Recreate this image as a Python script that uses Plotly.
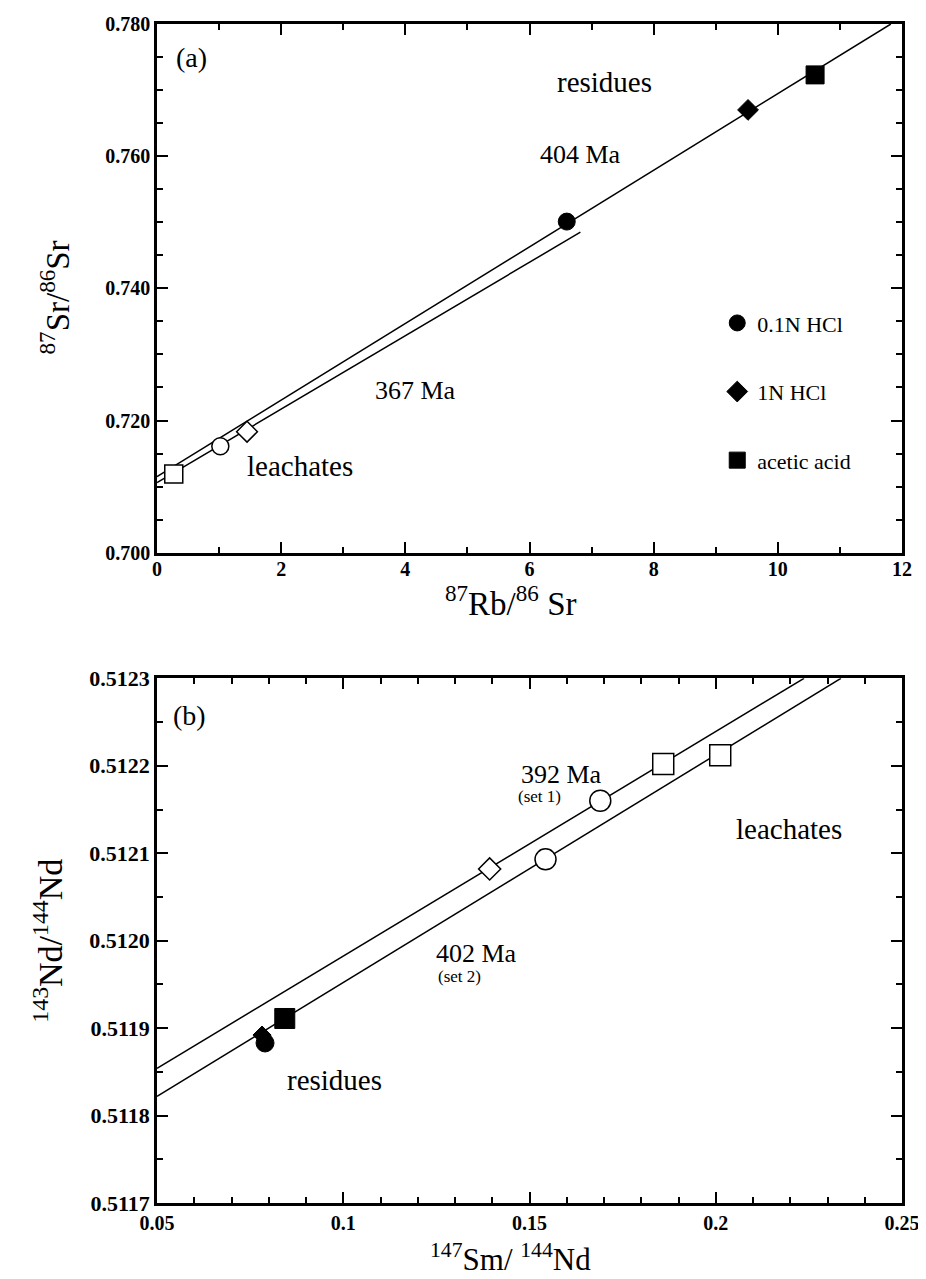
import plotly.graph_objects as go

# ---------------- Panel (a): Rb-Sr ----------------
rb_res_x = [6.60, 9.52, 10.60]          # residues: 0.1N HCl, 1N HCl, acetic acid
rb_res_y = [0.7501, 0.7670, 0.7723]
rb_lea_x = [1.02, 1.45, 0.27]           # leachates: 0.1N HCl, 1N HCl, acetic acid
rb_lea_y = [0.7161, 0.7183, 0.7119]
iso404_x = [0.0, 11.82]
iso404_y = [0.7115, 0.7800]
iso367_x = [0.0, 6.82]
iso367_y = [0.7106, 0.7485]
rb_xticks = [0, 2, 4, 6, 8, 10, 12]
sr_yticks = [0.700, 0.720, 0.740, 0.760, 0.780]
sr_ylabels = ["0.700", "0.720", "0.740", "0.760", "0.780"]

# ---------------- Panel (b): Sm-Nd ----------------
sm_res_x = [0.0790, 0.0782, 0.0843]
sm_res_y = [0.511883, 0.511892, 0.511911]
sm_lea_x = [0.1690, 0.1543, 0.1393, 0.1859, 0.2012]
sm_lea_y = [0.512160, 0.512093, 0.512082, 0.512202, 0.512212]
sm_lea_sym = ["circle", "circle", "diamond", "square", "square"]
iso392_x = [0.05, 0.2237]
iso392_y = [0.511854, 0.5123]
iso402_x = [0.05, 0.2336]
iso402_y = [0.511822, 0.5123]
sm_xticks = [0.05, 0.10, 0.15, 0.20, 0.25]
sm_xlabels = ["0.05", "0.1", "0.15", "0.2", "0.25"]
nd_yticks = [0.5117, 0.5118, 0.5119, 0.5120, 0.5121, 0.5122, 0.5123]
nd_ylabels = ["0.5117", "0.5118", "0.5119", "0.5120", "0.5121", "0.5122", "0.5123"]

legend_names = ["0.1N HCl", "1N HCl", "acetic acid"]
symbols = ["circle", "diamond", "square"]

SERIF = "Liberation Serif"
fig = go.Figure()

# isochron lines panel a
for xs, ys in [(iso404_x, iso404_y), (iso367_x, iso367_y)]:
    fig.add_trace(go.Scatter(x=xs, y=ys, mode="lines", line=dict(color="black", width=1.5),
                             showlegend=False, hoverinfo="skip", xaxis="x", yaxis="y"))
# leachates panel a (open)
for i in range(3):
    fig.add_trace(go.Scatter(x=[rb_lea_x[i]], y=[rb_lea_y[i]], mode="markers",
                             marker=dict(symbol=symbols[i], size=[17, 16, 18][i], color="white", opacity=1,
                                         line=dict(color="black", width=1.5)),
                             showlegend=False, xaxis="x", yaxis="y"))
# residues panel a (filled, legend)
for i in range(3):
    fig.add_trace(go.Scatter(x=[rb_res_x[i]], y=[rb_res_y[i]], mode="markers", name=legend_names[i],
                             legendgroup=legend_names[i],
                             marker=dict(symbol=symbols[i], size=[17, 16, 18][i], color="black", opacity=1,
                                         line=dict(color="black", width=1)),
                             showlegend=True, xaxis="x", yaxis="y"))

# isochron lines panel b
for xs, ys in [(iso392_x, iso392_y), (iso402_x, iso402_y)]:
    fig.add_trace(go.Scatter(x=xs, y=ys, mode="lines", line=dict(color="black", width=1.5),
                             showlegend=False, hoverinfo="skip", xaxis="x2", yaxis="y2"))
# residues panel b
fig.add_trace(go.Scatter(x=sm_res_x, y=sm_res_y, mode="markers",
                         marker=dict(symbol=["circle", "diamond", "square"], size=[18, 14, 20], color="black",
                                     opacity=1, line=dict(color="black", width=1)),
                         showlegend=False, xaxis="x2", yaxis="y2"))
# leachates panel b
fig.add_trace(go.Scatter(x=sm_lea_x, y=sm_lea_y, mode="markers",
                         marker=dict(symbol=sm_lea_sym, size=[21, 21, 17, 21, 21], color="white",
                                     opacity=1, line=dict(color="black", width=1.5)),
                         showlegend=False, xaxis="x2", yaxis="y2"))

def axis_common(size=20):
    return dict(showgrid=False, zeroline=False, showline=True, linecolor="black", linewidth=2.5,
                mirror="allticks", ticks="inside", tickcolor="black", tickwidth=2, ticklen=11,
                tickfont=dict(family=SERIF, size=size, color="black", weight="bold"))

# the page adds an 8px body margin, so the figure is drawn 8px smaller and shifted
fig.update_layout(
    width=918, height=1271,
    paper_bgcolor="white", plot_bgcolor="white",
    margin=dict(l=149, r=24, t=4, b=76),
    font=dict(family=SERIF, color="black"),
    xaxis=dict(domain=[0, 1], range=[0, 12], anchor="y", tickvals=rb_xticks,
               ticktext=[str(v) for v in rb_xticks], ticklabelstandoff=-3,
               minor=dict(ticks="inside", dtick=1, ticklen=6, tickwidth=1.5, tickcolor="black"),
               **axis_common()),
    yaxis=dict(domain=[0.5516, 1], range=[0.700, 0.780], anchor="x", tickvals=sr_yticks,
               ticktext=sr_ylabels,
               minor=dict(ticks="inside", dtick=0.005, ticklen=6, tickwidth=1.5, tickcolor="black"),
               **axis_common()),
    xaxis2=dict(domain=[0, 1], range=[0.05, 0.25], anchor="y2", tickvals=sm_xticks, ticktext=sm_xlabels,
                minor=dict(ticks="inside", dtick=0.01, tick0=0.05, ticklen=6, tickwidth=1.5, tickcolor="black"),
                **axis_common()),
    yaxis2=dict(domain=[0, 0.4450], range=[0.5117, 0.5123], anchor="x2", tickvals=nd_yticks,
                ticktext=nd_ylabels,
                minor=dict(ticks="inside", dtick=0.00005, tick0=0.5117, ticklen=6, tickwidth=1.5, tickcolor="black"),
                **axis_common(22)),
    legend=dict(x=0.752, y=0.7641, xanchor="left", yanchor="top", bgcolor="rgba(0,0,0,0)",
                font=dict(family=SERIF, size=22, color="black"), tracegroupgap=37, itemsizing="trace"),
)

def ann(text, x, y, size, xref="x", yref="y", angle=0):
    fig.add_annotation(text=text, x=x, y=y, xref=xref, yref=yref, showarrow=False,
                       font=dict(family=SERIF, size=size, color="black"), textangle=angle,
                       xanchor="center", yanchor="middle")

# panel a texts
ann("(a)", 0.55, 0.7749, 28)
ann("residues", 7.21, 0.7712, 29)
ann("404 Ma", 6.82, 0.7602, 26)
ann("367 Ma", 4.16, 0.7245, 26)
ann("leachates", 2.31, 0.7131, 29)
# panel b texts
ann("(b)", 0.0588, 0.512258, 28, "x2", "y2")
ann("392 Ma", 0.1586, 0.512190, 26, "x2", "y2")
ann("(set 1)", 0.1527, 0.512165, 17, "x2", "y2")
ann("402 Ma", 0.1358, 0.511985, 26, "x2", "y2")
ann("(set 2)", 0.1312, 0.511959, 17, "x2", "y2")
ann("leachates", 0.2197, 0.512128, 29, "x2", "y2")
ann("residues", 0.0977, 0.511841, 29, "x2", "y2")

# axis titles
ann("<sup>87</sup>Sr/<sup>86</sup>Sr", -0.137, 0.768, 33, "paper", "paper", -90)
ann("<sup>87</sup>Rb/<sup>86</sup> Sr", 0.4745, 0.5105, 33, "paper", "paper")
ann("<sup>143</sup>Nd/<sup>144</sup>Nd", -0.146, 0.2227, 34, "paper", "paper", -90)
ann("<sup>147</sup>Sm/ <sup>144</sup>Nd", 0.4745, -0.046, 31, "paper", "paper")

fig.write_html("out.html")
